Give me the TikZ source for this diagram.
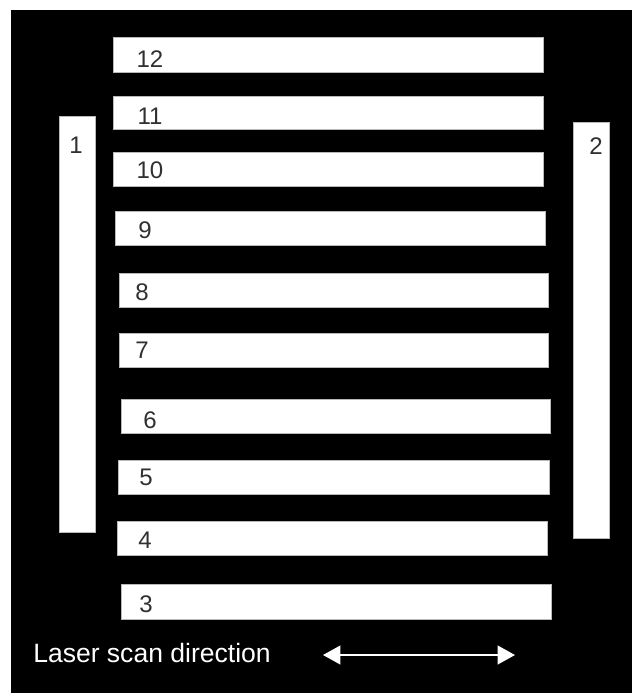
\documentclass[tikz,border=0pt]{standalone}
\usepackage{fontspec}
\setmainfont{Liberation Sans}
\usetikzlibrary{arrows.meta}
\definecolor{digitgray}{HTML}{303030}
\tikzset{
  bar/.style={fill=white, draw=gray!55, line width=0.4pt},
  barnum/.style={anchor=base, inner sep=0pt, text=digitgray, font=\fontsize{18}{18}\selectfont},
}
\begin{document}
\begin{tikzpicture}[x=0.75pt, y=-0.75pt]
  \useasboundingbox (0,0) rectangle (632,693);
  % Dark background
  \fill[white] (0,0) rectangle (632,693);
  \fill[black] (11,10) rectangle (632,693);

  % Horizontal stripes
  \draw[bar] (113,37) rectangle (543,72);
  \draw[bar] (113,96) rectangle (543,129);
  \draw[bar] (113,152) rectangle (543,186);
  \draw[bar] (115,211) rectangle (545,245);
  \draw[bar] (119,273) rectangle (548,307);
  \draw[bar] (119,333) rectangle (548,367);
  \draw[bar] (121,399) rectangle (550,433);
  \draw[bar] (118,460) rectangle (549,494);
  \draw[bar] (117,521) rectangle (547,555);
  \draw[bar] (121,584) rectangle (551,619);

  % Vertical stripes
  \draw[bar] (59,116) rectangle (95,532);
  \draw[bar] (573,122) rectangle (609,538);

  % Stripe numbers
  \node[barnum] (n12) at (150,67) {12};
  \node[barnum] (n11) at (150,124) {11};
  \node[barnum] (n10) at (150,178) {10};
  \node[barnum] (n9) at (145,238) {9};
  \node[barnum] (n8) at (142,300) {8};
  \node[barnum] (n7) at (142,358) {7};
  \node[barnum] (n6) at (150,428) {6};
  \node[barnum] (n5) at (146,485) {5};
  \node[barnum] (n4) at (145,548) {4};
  \node[barnum] (n3) at (146,612) {3};
  \node[barnum] (n1) at (76,153) {1};
  \node[barnum] (n2) at (596,154) {2};

  % Scan direction
  \node[anchor=base west, inner sep=0pt, text=white, font=\fontsize{19.9}{19.9}\selectfont] (scanlabel) at (33,662) {Laser scan direction};
  \coordinate (scanL) at (323,655);
  \coordinate (scanR) at (515,655);
  \draw[white, line width=1.5pt, {Triangle[length=13pt, width=14pt]}-{Triangle[length=13pt, width=14pt]}] (scanL) -- (scanR);
\end{tikzpicture}
\end{document}
